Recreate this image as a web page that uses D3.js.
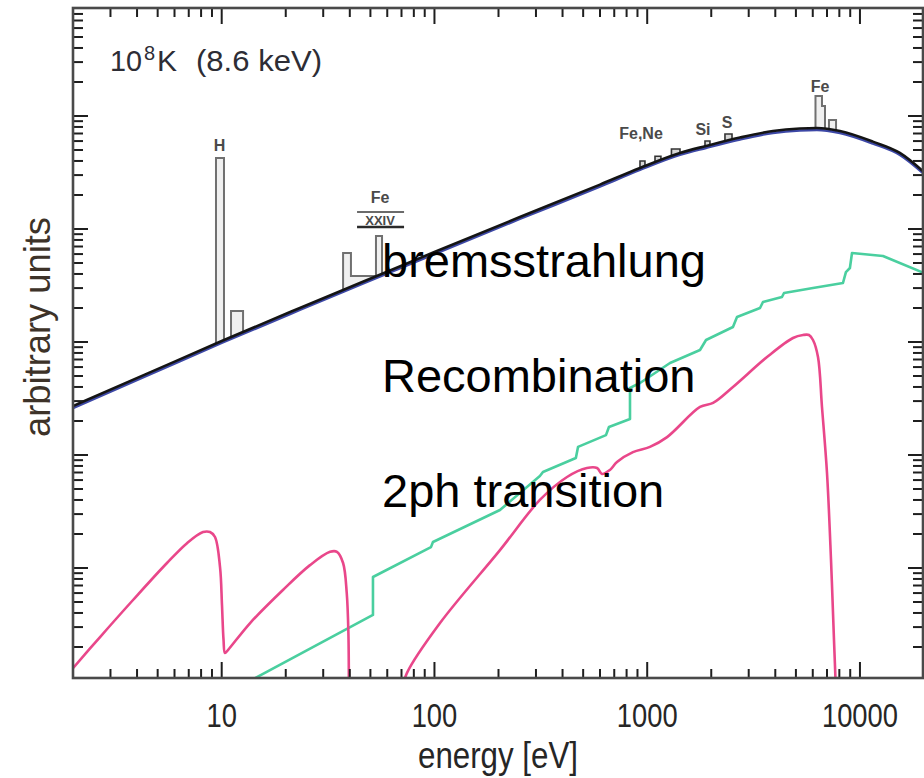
<!DOCTYPE html>
<html><head><meta charset="utf-8">
<script src="https://cdn.jsdelivr.net/npm/d3@7"></script>
<style>
body{margin:0;background:#fff;}
svg{display:block;font-family:"Liberation Sans",Arial,sans-serif;}
</style>
</head><body>
<svg id="chart" width="924" height="778"></svg>
<script>
// ---------------- data ----------------
// total continuum (bremsstrahlung), energy in eV, arbitrary units
const bremEnergy = [2, 4.6, 10, 23.3, 44.6, 100, 252, 600, 925, 1426, 1890, 2730, 3900, 5220, 6280, 8050, 11500, 15400, 20000];
const bremValue  = [271, 538, 1021, 2000, 3327, 6256, 12770, 24700, 34700, 47100, 54300, 64500, 73600, 77500, 78300, 73600, 59300, 47100, 31900];

// recombination continuum (with edges)
const recEnergy = [12.2, 51.4, 51.4, 96.3, 98.4, 203.2, 313, 323.6, 462, 473, 640, 661, 830, 830, 925, 1280, 1771, 1890, 2530, 2643, 3390, 3500, 4300, 4396, 6015, 8320, 8590, 8970, 9175, 12830, 20000];
const recValue  = [0.9, 3.84, 8.32, 15.3, 17.0, 32.6, 65.2, 70.7, 94, 118, 150, 177, 208, 392, 434, 652, 850, 1042, 1358, 1665, 2000, 2260, 2500, 2715, 3005, 3327, 4160, 4520, 6130, 5770, 4080];

// two-photon continuum, low-energy part
const twoPhA_Energy = [2, 2.68, 3.83, 5.53, 6.87, 8.17, 8.81, 9.30, 9.82, 10.03, 10.2, 10.36, 10.7, 13.6, 19.4, 26.0, 32.3, 34.8, 37.2, 38.7, 39.4, 39.6];
const twoPhA_Value  = [1.30, 2.45, 5.21, 11.07, 16.6, 20.8, 20.8, 18.8, 10.2, 4.71, 2.31, 1.77, 1.88, 3.26, 6.39, 10.6, 13.9, 13.9, 11.07, 6.01, 2.66, 0.83];
// two-photon continuum, high-energy part
const twoPhB_Energy = [70.4, 74.3, 106.2, 203.2, 313, 420, 521, 581, 613, 668, 721, 857, 1030, 1240, 1771, 2040, 2530, 3660, 4844, 5400, 5760, 6015, 6350, 6630, 7000, 7310, 7550, 7710];
const twoPhB_Value  = [0.83, 1.18, 3.26, 14.4, 40.0, 63.9, 76.7, 76.7, 67.9, 73.7, 86.7, 106, 118, 144, 266, 289, 400, 737, 1085, 1153, 1153, 1042, 737, 266, 69.3, 11.8, 2.31, 0.83];

// emission lines: bin edges (eV) and top levels
const lineEdges = [[9.40, 10.25], [11.06, 12.6], [37.2, 40.5, 53.1, 56.7], [925, 976], [1088, 1160], [1300, 1426], [1869, 1972], [2320, 2504], [6180, 6630, 6850], [7150, 7720]];
const lineTops  = [[42500], [1880], [6130, 3840, 8670], [40000], [44000], [51000], [60100], [69300], [150300, 122500], [92200]];

// line annotations
const lineLabels      = ["H", "Fe", "Fe,Ne", "Si", "S", "Fe"];
const lineLabelEnergy = [9.77, 55.5, 935, 1828, 2372, 6490];
const lineLabelValue  = [49000, 17000, 62600, 67900, 78300, 163000];

// axis ticks / labels
const xTickValues = [10, 100, 1000, 10000];
const xTickLabels = ["10", "100", "1000", "10000"];
const componentNames = ["bremsstrahlung", "Recombination", "2ph transition"];

// ---------------- drawing ----------------
const svg = d3.select("#chart");
const L = 73, R = 923, T = 8, B = 678;
const x = d3.scaleLog().domain([2, 20000]).range([73, 924]);
const y = d3.scaleLog().domain([1, 1e6]).range([681, 3]);

svg.append("defs").append("clipPath").attr("id", "clip")
  .append("rect").attr("x", L).attr("y", T).attr("width", R - L).attr("height", B - T);

const plot = svg.append("g").attr("clip-path", "url(#clip)");

const line = d3.line().x(d => x(d[0])).y(d => y(d[1]));
const zip = (a, b) => a.map((v, i) => [v, b[i]]);

// recombination
plot.append("path").datum(zip(recEnergy, recValue))
  .attr("d", line).attr("fill", "none").attr("stroke", "#4acf9f").attr("stroke-width", 2.6)
  .attr("stroke-linejoin", "round");

// two-photon
[zip(twoPhA_Energy, twoPhA_Value), zip(twoPhB_Energy, twoPhB_Value)].forEach(seg => {
  plot.append("path").datum(seg)
    .attr("d", d3.line().x(d => x(d[0])).y(d => y(d[1])).curve(d3.curveCatmullRom.alpha(0.5)))
    .attr("fill", "none").attr("stroke", "#e9478a").attr("stroke-width", 2.6)
    .attr("stroke-linejoin", "round");
});

// continuum interpolation in log-log for line bases
function cont(E) {
  const le = Math.log10(E);
  for (let i = 0; i < bremEnergy.length - 1; i++) {
    const a = Math.log10(bremEnergy[i]), b = Math.log10(bremEnergy[i + 1]);
    if (le >= a && le <= b) {
      const t = (le - a) / (b - a);
      return Math.pow(10, Math.log10(bremValue[i]) * (1 - t) + Math.log10(bremValue[i + 1]) * t);
    }
  }
  return bremValue[bremValue.length - 1];
}

// emission lines
lineEdges.forEach((edges, gi) => {
  const tops = lineTops[gi];
  const small = gi >= 3 && gi <= 7;
  let p = d3.path();
  p.moveTo(x(edges[0]), y(cont(edges[0])));
  for (let i = 0; i < tops.length; i++) {
    p.lineTo(x(edges[i]), y(tops[i]));
    p.lineTo(x(edges[i + 1]), y(tops[i]));
  }
  p.lineTo(x(edges[edges.length - 1]), y(cont(edges[edges.length - 1])));
  plot.append("path").attr("d", p.toString())
    .attr("fill", small ? "#d8d8d8" : "#f0f0f0").attr("stroke", small ? "#333" : "#707070")
    .attr("stroke-width", small ? 1.6 : 2)
    .attr("stroke-linejoin", "miter");
});

// bremsstrahlung: blue underlay and black total
const bremLine = d3.line().x(d => x(d[0])).y(d => y(d[1])).curve(d3.curveMonotoneX);
const bremData = zip(bremEnergy, bremValue);
plot.append("path").datum(bremData).attr("d", bremLine)
  .attr("transform", "translate(0,2)")
  .attr("fill", "none").attr("stroke", "#3d48a6").attr("stroke-width", 2.4);
plot.append("path").datum(bremData).attr("d", bremLine)
  .attr("fill", "none").attr("stroke", "#141414").attr("stroke-width", 2.6);

// ---------------- axes / frame ----------------
const axisG = svg.append("g");
const xTicks = [];
for (let d = 1; d <= 10000; d *= 10) for (let k = 1; k <= 9; k++) {
  const v = k * d;
  if (v > 2 && v < 20000) xTicks.push({ v, major: k === 1 });
}
const yTicks = [];
for (let d = 1; d < 1e6; d *= 10) for (let k = 1; k <= 9; k++) {
  const v = k * d;
  const py = y(v);
  if (py > T + 0.5 && py < B - 0.5) yTicks.push({ v, major: k === 1 });
}
const tickCol = "#1e1e1e";
xTicks.forEach(t => {
  const len = t.major ? 16 : 9;
  axisG.append("line").attr("x1", x(t.v)).attr("x2", x(t.v)).attr("y1", B).attr("y2", B - len)
    .attr("stroke", tickCol).attr("stroke-width", 2);
  axisG.append("line").attr("x1", x(t.v)).attr("x2", x(t.v)).attr("y1", T).attr("y2", T + len)
    .attr("stroke", tickCol).attr("stroke-width", 2);
});
yTicks.forEach(t => {
  const len = t.major ? 15 : 10;
  axisG.append("line").attr("x1", L).attr("x2", L + len).attr("y1", y(t.v)).attr("y2", y(t.v))
    .attr("stroke", tickCol).attr("stroke-width", 2);
  axisG.append("line").attr("x1", R).attr("x2", R - len).attr("y1", y(t.v)).attr("y2", y(t.v))
    .attr("stroke", tickCol).attr("stroke-width", 2);
});
axisG.append("rect").attr("x", L).attr("y", T).attr("width", R - L).attr("height", B - T)
  .attr("fill", "none").attr("stroke", "#4a4a4a").attr("stroke-width", 2.6);

// tick labels
xTickValues.forEach((v, i) => {
  svg.append("text").attr("x", x(v)).attr("y", 727).attr("text-anchor", "middle")
    .attr("font-size", 33).attr("fill", "#262626")
    .attr("textLength", 15.2 * xTickLabels[i].length).attr("lengthAdjust", "spacingAndGlyphs")
    .text(xTickLabels[i]);
});
svg.append("text").attr("x", 498).attr("y", 768).attr("text-anchor", "middle")
  .attr("font-size", 37).attr("fill", "#262626")
  .attr("textLength", 160).attr("lengthAdjust", "spacingAndGlyphs").text("energy [eV]");
svg.append("text").attr("transform", "translate(50,327) rotate(-90)").attr("text-anchor", "middle")
  .attr("font-size", 37).attr("fill", "#3d3228")
  .attr("textLength", 220).attr("lengthAdjust", "spacingAndGlyphs").text("arbitrary units");

// title
const title = svg.append("g").attr("fill", "#2d2d35");
title.append("text").attr("x", 110).attr("y", 71).attr("font-size", 30)
  .attr("textLength", 32).attr("lengthAdjust", "spacingAndGlyphs").text("10");
title.append("text").attr("x", 144).attr("y", 60).attr("font-size", 20).text("8");
title.append("text").attr("x", 157).attr("y", 71).attr("font-size", 30).text("K");
title.append("text").attr("x", 196).attr("y", 71).attr("font-size", 30)
  .attr("textLength", 126).attr("lengthAdjust", "spacingAndGlyphs").text("(8.6 keV)");

// line labels
lineLabels.forEach((s, i) => {
  svg.append("text").attr("x", x(lineLabelEnergy[i])).attr("y", y(lineLabelValue[i]))
    .attr("text-anchor", "middle").attr("font-size", 16).attr("font-weight", "bold")
    .attr("fill", "#4a4a4a").text(s);
});
// roman numeral XXIV under Fe label
const fx = x(lineLabelEnergy[1]), fy = y(lineLabelValue[1]);
svg.append("line").attr("x1", fx - 23).attr("x2", fx + 24).attr("y1", fy + 9).attr("y2", fy + 9)
  .attr("stroke", "#3a3a3a").attr("stroke-width", 1.6);
svg.append("text").attr("x", fx).attr("y", fy + 22).attr("text-anchor", "middle")
  .attr("font-size", 13).attr("font-weight", "bold").attr("fill", "#4a4a4a").text("XXIV");
svg.append("line").attr("x1", fx - 23).attr("x2", fx + 24).attr("y1", fy + 24).attr("y2", fy + 24)
  .attr("stroke", "#2a2a2a").attr("stroke-width", 2.6);

// component names
componentNames.forEach((s, i) => {
  svg.append("text").attr("x", 382).attr("y", 277 + i * 115)
    .attr("font-size", 47).attr("fill", "#000").text(s);
});
</script>
</body></html>
